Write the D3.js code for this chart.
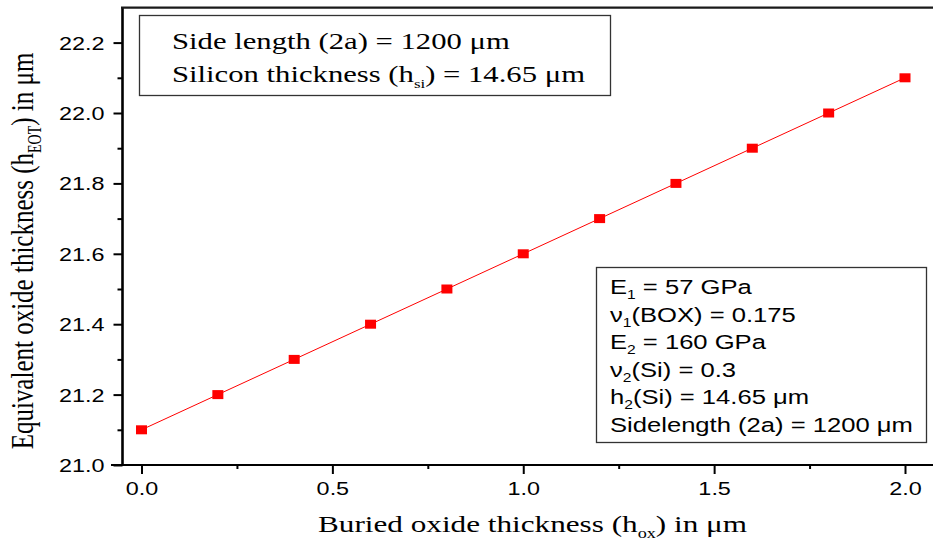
<!DOCTYPE html>
<html>
<head>
<meta charset="utf-8">
<script src="https://cdn.jsdelivr.net/npm/d3@7"></script>
<style>
  body { margin: 0; background: #fff; }
  svg { display: block; }
  .sans { font-family: "Liberation Sans", Arial, sans-serif; }
  .serif { font-family: "Liberation Serif", "Times New Roman", serif; }
</style>
</head>
<body>
<svg id="chart"></svg>
<script>
// data
const hox = [0.0, 0.2, 0.4, 0.6, 0.8, 1.0, 1.2, 1.4, 1.6, 1.8, 2.0];
const heot = [21.1, 21.2, 21.3, 21.4, 21.5, 21.6, 21.7, 21.8, 21.9, 22.0, 22.1];
const xMajor = [0.0, 0.5, 1.0, 1.5, 2.0];
const xMinor = [0.25, 0.75, 1.25, 1.75];
const yMajor = [21.0, 21.2, 21.4, 21.6, 21.8, 22.0, 22.2];
const yMinor = [21.1, 21.3, 21.5, 21.7, 21.9, 22.1];

const boxTop = [
	[["Side length (2a) = 1200 \u03bcm"]],
	[["Silicon thickness (h"], ["si", "sub"], [") = 14.65 \u03bcm"]]
];
const boxParams = [
	[["E"], ["1", "sub"], [" = 57 GPa"]],
	[["\u03bd"], ["1", "sub"], ["(BOX) = 0.175"]],
	[["E"], ["2", "sub"], [" = 160 GPa"]],
	[["\u03bd"], ["2", "sub"], ["(Si) = 0.3"]],
	[["h"], ["2", "sub"], ["(Si) = 14.65 \u03bcm"]],
	[["Sidelength (2a) = 1200 \u03bcm"]]
];

const width = 933;
const height = 542;
const S = 1.3; // the picture is stretched sideways

const svg = d3.select("#chart")
	.attr("width", width)
	.attr("height", height);

const x = d3.scaleLinear().domain([0, 2]).range([141.5, 905]);
const y = d3.scaleLinear().domain([21.0, 22.3]).range([465, 7.4]);

// text with subscripts, stretched like the picture
function richText(parent, parts, px, py, cls, size, subSize, subDy) {
	const t = parent.append("text")
		.attr("class", cls)
		.attr("transform", `translate(${px},${py}) scale(${S},1)`)
		.attr("font-size", size);
	parts.forEach((p) => {
		const ts = t.append("tspan").text(p[0]);
		if (p[1] === "sub") {
			ts.attr("font-size", subSize).attr("dy", subDy);
		} else if (t.selectAll("tspan").size() > 1) {
			ts.attr("dy", -subDy);
		}
	});
	return t;
}

// axes
function drawAxis(gen, vals, size, tr) {
	const g = svg.append("g")
		.attr("transform", tr)
		.call(gen.tickValues(vals).tickSize(size));
	g.select(".domain").remove();
	g.selectAll(".tick line").attr("stroke", "#000").attr("stroke-width", 2);
	return g;
}

drawAxis(d3.axisBottom(x).tickFormat(""), xMinor, 4, "translate(0,465)");
const gx = drawAxis(d3.axisBottom(x).tickFormat(d3.format(".1f")), xMajor, 9, "translate(0,465)");
gx.selectAll(".tick text")
	.attr("class", "sans")
	.attr("font-size", 18)
	.attr("fill", "#000")
	.attr("y", null)
	.attr("dy", null)
	.attr("transform", `translate(0,30) scale(${S},1)`);

drawAxis(d3.axisLeft(y).tickFormat(""), yMinor, 5, "translate(122.5,0)");
const gy = drawAxis(d3.axisLeft(y).tickFormat(d3.format(".1f")), yMajor, 9, "translate(122.5,0)");
gy.selectAll(".tick text")
	.attr("class", "sans")
	.attr("font-size", 18)
	.attr("fill", "#000")
	.attr("x", null)
	.attr("dy", "0.36em")
	.attr("transform", `translate(-18,0) scale(${S},1)`);

// frame lines
svg.append("line").attr("x1", 122.5).attr("x2", 122.5).attr("y1", 7.4).attr("y2", 465)
	.attr("stroke", "#000").attr("stroke-width", 2.6);
svg.append("line").attr("x1", 121).attr("x2", width).attr("y1", 7.6).attr("y2", 7.6)
	.attr("stroke", "#1a1a1a").attr("stroke-width", 2.2);
svg.append("line").attr("x1", 111).attr("x2", width).attr("y1", 465).attr("y2", 465)
	.attr("stroke", "#000").attr("stroke-width", 2);

// series
const pts = hox.map((d, i) => ({ x: d, y: heot[i] }));
svg.append("path")
	.datum(pts)
	.attr("fill", "none")
	.attr("stroke", "#ff0000")
	.attr("stroke-width", 1)
	.attr("d", d3.line().x((d) => x(d.x)).y((d) => y(d.y)));
svg.selectAll(".pt")
	.data(pts)
	.enter()
	.append("rect")
	.attr("class", "pt")
	.attr("x", (d) => x(d.x) - 5.5)
	.attr("y", (d) => y(d.y) - 4.5)
	.attr("width", 11)
	.attr("height", 9)
	.attr("fill", "#ff0000");

// top-left box
svg.append("rect")
	.attr("x", 139.5).attr("y", 15.5).attr("width", 471).attr("height", 80)
	.attr("fill", "#fff").attr("stroke", "#333").attr("stroke-width", 1.3);
boxTop.forEach((parts, i) => {
	richText(svg, parts, 172, 48.5 + i * 33.5, "serif", 23.6, 13, 6);
});

// parameter box
svg.append("rect")
	.attr("x", 596.5).attr("y", 267.5).attr("width", 330).attr("height", 175)
	.attr("fill", "#fff").attr("stroke", "#333").attr("stroke-width", 1.3);
boxParams.forEach((parts, i) => {
	richText(svg, parts, 610, 294 + i * 27.6, "sans", 19.7, 12, 5);
});

// axis titles
richText(svg, [["Buried oxide thickness (h"], ["ox", "sub"], [") in \u03bcm"]],
	318, 532, "serif", 24, 14, 6);

const yt = svg.append("text")
	.attr("class", "serif")
	.attr("font-size", 25)
	.attr("text-anchor", "middle")
	.attr("transform", `translate(33,251) scale(${S},1) rotate(-90)`);
yt.append("tspan").text("Equivalent oxide thickness (h");
yt.append("tspan").text("EOT").attr("font-size", 14).attr("dy", 6);
yt.append("tspan").text(") in \u03bcm").attr("dy", -6);
</script>
</body>
</html>
